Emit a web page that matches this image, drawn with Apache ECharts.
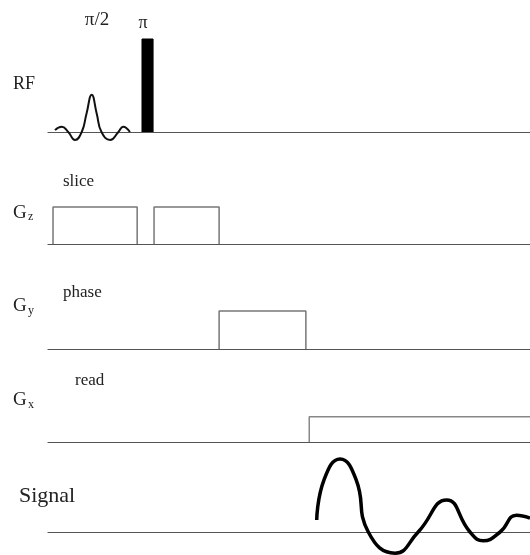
<!DOCTYPE html>
<html><head><meta charset="utf-8">
<script src="https://cdn.jsdelivr.net/npm/echarts@6/dist/echarts.min.js"></script>
<style>html,body{margin:0;padding:0;background:#fff}#c{width:530px;height:555px}</style>
</head><body><div id="c"></div>
<script>
// time axis: 0..100 (arbitrary units); amplitudes normalised per channel
const rfSinc = [[1.45,0.02],[2.84,0.057],[4.2,0],[5.6,-0.086],[7.0,0],[8.0,0.2],[9.07,0.40],[10.1,0.2],[11.1,0],[12.9,-0.086],[14.6,0],[15.6,0.057],[17.0,0]];
const rfPi = [[19.5,0],[19.5,1],[21.8,1],[21.8,0]];
const gzSlice1 = [[1.04,0],[1.04,1],[18.5,1],[18.5,0]];
const gzSlice2 = [[22.0,0],[22.0,1],[35.5,1],[35.5,0]];
const gyPhase = [[35.5,0],[35.5,1],[53.5,1],[53.5,0]];
const gxRead = [[54.2,0],[54.2,0.68],[100,0.68]];
const signal = [[55.75,0.164],[57.3,0.72],[60.6,1.0],[63.9,0.72],[66.45,0],[72.0,-0.29],[76.8,0],[82.7,0.44],[87.55,0],[90.3,-0.12],[93.8,0],[97.2,0.23],[100,0.19]];
const labels = ['RF','slice','phase','read','Signal','\u03c0/2','\u03c0'];

const chart = echarts.init(document.getElementById('c'), null, {renderer:'canvas'});
const rows = [
  {top:39, height:102.3, min:-0.1, max:1},
  {top:207, height:37, min:0, max:1},
  {top:311, height:38, min:0, max:1},
  {top:405, height:37, min:0, max:1},
  {top:459, height:94.9, min:-0.3, max:1}
];
const grid = rows.map(r=>({left:48, right:0, top:r.top, height:r.height}));
const xAxis = rows.map((r,i)=>({type:'value', gridIndex:i, min:0, max:100,
  axisLine:{show:true, onZero:true, lineStyle:{color:'#555', width:1.2}},
  axisTick:{show:false}, axisLabel:{show:false}, splitLine:{show:false}}));
const yAxis = rows.map((r,i)=>({type:'value', gridIndex:i, min:r.min, max:r.max, show:false, splitLine:{show:false}}));
function ln(data, i, color, width, smooth, extra){
  return Object.assign({type:'line', xAxisIndex:i, yAxisIndex:i, data, symbol:'none', smooth:smooth||false,
    lineStyle:{color, width}, silent:true, clip:false}, extra||{});
}
const series = [
  ln(rfSinc,0,'#111',2,0.5),
  ln(rfPi,0,'#000',1,false,{areaStyle:{color:'#000', opacity:1}}),
  ln(gzSlice1,1,'#777',1.5),
  ln(gzSlice2,1,'#777',1.5),
  ln(gyPhase,2,'#777',1.5),
  ln(gxRead,3,'#888',1.5),
  ln(signal,4,'#000',3.5,0.5)
];
const F = '"Liberation Serif", "DejaVu Serif", serif';
function txt(t,x,y,size,align){
  return {type:'text', x, y, silent:true, style:{text:t, font:size+'px '+F, fill:'#222', align:align||'left', verticalAlign:'middle'}};
}
const graphic = [
  txt(labels[5],97,20,19,'center'),
  txt(labels[6],143,23,18,'center'),
  txt(labels[0],13,84,18),
  txt(labels[1],63,182,17),
  txt('G',13,213,19), txt('z',28,217,12),
  txt(labels[2],63,293,17),
  txt('G',13,306,19), txt('y',28,311,12),
  txt(labels[3],75,381,17),
  txt('G',13,400,19), txt('x',28,405,12),
  txt(labels[4],19,496,22)
];
chart.setOption({animation:false, backgroundColor:'#fff', grid, xAxis, yAxis, series, graphic});
</script></body></html>
